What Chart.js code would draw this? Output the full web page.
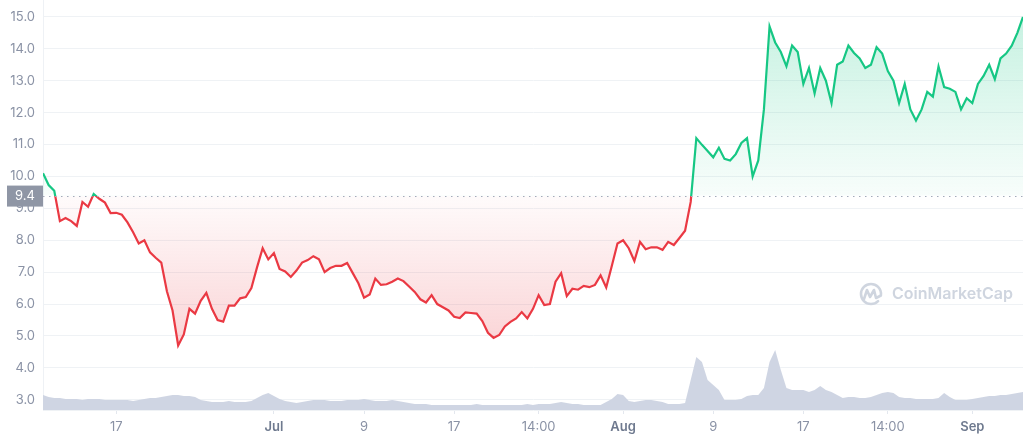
<!DOCTYPE html>
<html>
<head>
<meta charset="utf-8">
<title>Price chart</title>
<script src="https://cdn.jsdelivr.net/npm/chart.js@4.4.1/dist/chart.umd.min.js"></script>
<style>
  html, body { margin: 0; padding: 0; background: #fff; }
  #wrap { width: 1023px; height: 440px; }
</style>
</head>
<body>
<div id="wrap"><canvas id="priceChart" width="1023" height="440"></canvas></div>
<script>
// one point every 12h, from Jun 10 12:00 to Sep 5 12:00
const prices = [
    10.1, 9.73, 9.55, 8.6, 8.7, 8.6, 8.45, 9.2, 9.05, 9.45,
    9.3, 9.18, 8.85, 8.86, 8.8, 8.56, 8.25, 7.9, 8.0, 7.62,
    7.45, 7.3, 6.4, 5.8, 4.7, 5.05, 5.85, 5.7, 6.1, 6.35,
    5.85, 5.5, 5.45, 5.95, 5.95, 6.18, 6.22, 6.5, 7.15, 7.75,
    7.4, 7.6, 7.1, 7.02, 6.85, 7.05, 7.3, 7.38, 7.5, 7.4,
    7.0, 7.13, 7.2, 7.2, 7.29, 6.97, 6.65, 6.2, 6.3, 6.8,
    6.6, 6.62, 6.7, 6.8, 6.72, 6.55, 6.38, 6.15, 6.05, 6.28,
    6.0, 5.9, 5.8, 5.6, 5.56, 5.74, 5.72, 5.7, 5.47, 5.1,
    4.94, 5.03, 5.3, 5.44, 5.55, 5.75, 5.55, 5.85, 6.28, 5.97,
    6.0, 6.7, 6.97, 6.25, 6.48, 6.45, 6.57, 6.53, 6.6, 6.9,
    6.52, 7.2, 7.9, 8.0, 7.75, 7.35, 7.95, 7.72, 7.78, 7.78,
    7.7, 7.95, 7.85, 8.07, 8.3, 9.2, 11.2, 10.99, 10.8, 10.6,
    10.9, 10.55, 10.5, 10.7, 11.05, 11.2, 10.0, 10.5, 12.1, 14.7,
    14.2, 13.9, 13.45, 14.1, 13.9, 12.9, 13.4, 12.6, 13.4, 13.0,
    12.3, 13.5, 13.6, 14.1, 13.87, 13.7, 13.4, 13.5, 14.05, 13.85,
    13.3, 13.0, 12.3, 12.9, 12.1, 11.75, 12.1, 12.65, 12.5, 13.45,
    12.8, 12.75, 12.65, 12.1, 12.45, 12.3, 12.9, 13.15, 13.5, 13.05,
    13.7, 13.85, 14.1, 14.5, 15.0
];

// volume in M$
const volumes = [
    15, 13, 12, 12, 11, 11, 11, 10, 11, 11,
    11, 10, 10, 10, 10, 10, 9, 10, 11, 12,
    12, 13, 14, 15, 15, 14, 14, 13, 10, 9,
    8, 8, 8, 9, 8, 8, 8, 9, 12, 15,
    17, 14, 11, 9, 8, 7, 8, 9, 10, 10,
    10, 9, 9, 9, 10, 10, 10, 11, 10, 9,
    9, 9, 10, 9, 8, 7, 6, 6, 6, 5,
    5, 5, 5, 5, 5, 5, 5, 6, 5, 5,
    5, 5, 5, 5, 5, 5, 6, 5, 6, 6,
    6, 7, 8, 7, 6, 6, 5, 5, 5, 5,
    8, 11, 16, 15, 9, 8, 9, 10, 10, 9,
    8, 6, 6, 6, 7, 30, 53, 48, 30, 25,
    20, 10, 10, 10, 11, 14, 15, 15, 22, 48,
    60, 40, 22, 20, 20, 20, 18, 20, 24, 20,
    18, 15, 12, 13, 13, 12, 12, 13, 15, 17,
    18, 17, 13, 12, 12, 11, 11, 11, 11, 12,
    17, 13, 10, 10, 10, 11, 12, 13, 14, 14,
    15, 15, 16, 17, 18
];

const baseline = 9.4;
const yTicks = [3, 4, 5, 6, 7, 8, 9, 10, 11, 12, 13, 14, 15];
const xTickIndex = [13, 41, 57, 73, 88, 103, 119, 135, 150, 165];
const xTickLabels = ['17', 'Jul', '9', '17', '14:00', 'Aug', '9', '17', '14:00', 'Sep'];
const monthLabels = ['Jul', 'Aug', 'Sep'];

const GREEN = '#16c784';
const RED = '#ea3943';
const FONT = 'Inter, "Noto Sans", sans-serif';

// gradient coupé net sur la ligne de base (vert au-dessus, rouge en dessous)
function splitGradient(chart, topColors, bottomColors) {
    const { ctx, chartArea, scales } = chart;
    if (!chartArea || !scales.y) return topColors[0];
    const yb = scales.y.getPixelForValue(baseline);
    const f = Math.min(1, Math.max(0, (yb - chartArea.top) / (chartArea.bottom - chartArea.top)));
    const g = ctx.createLinearGradient(0, chartArea.top, 0, chartArea.bottom);
    g.addColorStop(0, topColors[0]);
    g.addColorStop(f, topColors[1]);
    g.addColorStop(f, bottomColors[0]);
    g.addColorStop(1, bottomColors[1]);
    return g;
}

const baselinePlugin = {
    id: 'baselinePlugin',
    beforeDatasetsDraw(chart) {
        // filigrane CoinMarketCap
        const { ctx } = chart;
        ctx.save();
        ctx.strokeStyle = '#cfd5df';
        ctx.fillStyle = '#cfd5df';
        ctx.lineWidth = 2.6;
        ctx.lineCap = 'round';
        ctx.lineJoin = 'round';
        ctx.beginPath();
        ctx.arc(871, 294, 10, 0.25 * Math.PI, 2.05 * Math.PI);
        ctx.stroke();
        ctx.beginPath();
        ctx.moveTo(864, 299);
        ctx.lineTo(867, 290);
        ctx.lineTo(870, 297);
        ctx.lineTo(874, 290);
        ctx.lineTo(876, 298);
        ctx.lineTo(880, 296);
        ctx.stroke();
        ctx.font = '600 16px ' + FONT;
        const w = ctx.measureText('CoinMarketCap').width;
        const size = 16 * 121 / w;
        ctx.font = '600 ' + size.toFixed(1) + 'px ' + FONT;
        ctx.textBaseline = 'middle';
        ctx.textAlign = 'left';
        ctx.fillText('CoinMarketCap', 892, 294);
        ctx.restore();
    },
    afterDatasetsDraw(chart) {
        const { ctx, chartArea, scales } = chart;
        const yb = Math.round(scales.y.getPixelForValue(baseline)) + 0.5;
        ctx.save();
        ctx.strokeStyle = '#a3abba';
        ctx.lineWidth = 1.2;
        ctx.setLineDash([1.5, 4.5]);
        ctx.beginPath();
        ctx.moveTo(chartArea.left, yb);
        ctx.lineTo(chartArea.right, yb);
        ctx.stroke();
        ctx.restore();
    },
    afterDraw(chart) {
        const { ctx, chartArea, scales } = chart;
        const yb = scales.y.getPixelForValue(baseline);
        ctx.save();
        ctx.fillStyle = '#8f96a5';
        ctx.fillRect(7, yb - 10, chartArea.left - 7, 21);
        ctx.fillStyle = '#ffffff';
        ctx.font = '13px ' + FONT;
        ctx.textAlign = 'center';
        ctx.textBaseline = 'middle';
        ctx.fillText(baseline.toFixed(1), 25, yb + 1);
        ctx.restore();
    }
};

const ctx = document.getElementById('priceChart').getContext('2d');
new Chart(ctx, {
    type: 'line',
    data: {
        datasets: [{
            label: 'Price',
            data: prices.map((p, i) => ({ x: i, y: p })),
            yAxisID: 'y',
            borderWidth: 2.2,
            pointRadius: 0,
            tension: 0,
            borderColor: c => splitGradient(c.chart, [GREEN, GREEN], [RED, RED]),
            backgroundColor: c => splitGradient(c.chart,
                ['rgba(22, 199, 132, 0.26)', 'rgba(22, 199, 132, 0.03)'],
                ['rgba(234, 57, 67, 0.02)', 'rgba(234, 57, 67, 0.30)']),
            fill: { target: { value: baseline } },
            order: 1
        }, {
            label: 'Volume',
            data: volumes.map((v, i) => ({ x: i, y: v })),
            yAxisID: 'yv',
            borderWidth: 0,
            pointRadius: 0,
            tension: 0,
            backgroundColor: 'rgba(204, 211, 225, 0.95)',
            fill: 'origin',
            order: 2
        }]
    },
    options: {
        responsive: false,
        animation: false,
        events: [],
        layout: { padding: 0 },
        plugins: {
            legend: { display: false },
            tooltip: { enabled: false }
        },
        scales: {
            x: {
                type: 'linear',
                min: 0,
                max: prices.length - 1,
                afterBuildTicks: s => { s.ticks = xTickIndex.map(v => ({ value: v })); },
                afterFit: s => {
                    s.height = 30;
                    s.paddingLeft = 0;
                    s.paddingRight = 0;
                },
                grid: { drawOnChartArea: false, drawTicks: true, tickLength: 4, color: '#e3e7ee' },
                border: { display: true, color: '#eff2f5' },
                ticks: {
                    autoSkip: false,
                    maxRotation: 0,
                    padding: 5,
                    callback: v => xTickLabels[xTickIndex.indexOf(v)],
                    color: c => monthLabels.includes(xTickLabels[c.index]) ? '#6f7a8f' : '#8a92a5',
                    font: c => ({
                        family: FONT,
                        size: 13,
                        weight: monthLabels.includes(xTickLabels[c.index]) ? '600' : '400'
                    })
                }
            },
            y: {
                position: 'left',
                min: 2.68,
                max: 15.53,
                afterBuildTicks: s => { s.ticks = yTicks.map(v => ({ value: v })); },
                afterFit: s => {
                    s.width = 43;
                    s.paddingTop = 0;
                    s.paddingBottom = 0;
                },
                grid: { color: '#eff2f5', drawTicks: false },
                border: { display: true, color: '#eef1f5' },
                ticks: {
                    padding: 8,
                    color: '#8a92a5',
                    font: { family: FONT, size: 13 },
                    callback: v => v.toFixed(1)
                }
            },
            yv: {
                display: false,
                min: 0,
                max: 410
            }
        }
    },
    plugins: [baselinePlugin]
});
</script>
</body>
</html>
